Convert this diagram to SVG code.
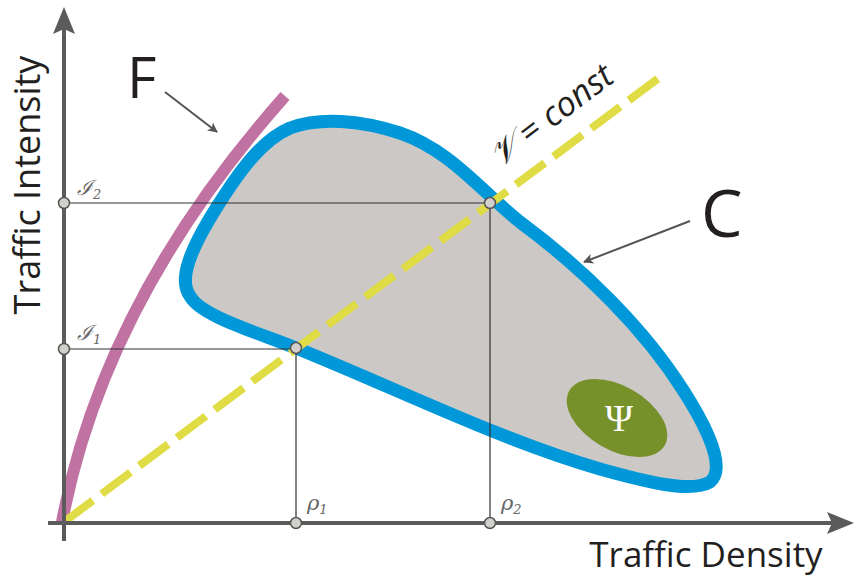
<svg xmlns="http://www.w3.org/2000/svg" width="855" height="581" viewBox="0 0 855 581">
<defs>
  <marker id="ah" viewBox="0 0 10 10" refX="9" refY="5" markerWidth="5" markerHeight="5" orient="auto" markerUnits="strokeWidth">
    <path d="M0,0 L10,5 L0,10 L2.5,5 Z" fill="#555"/>
  </marker>
  <style>
    .axis{stroke:#5b5b5b;stroke-width:4;fill:none}
    .guide{stroke:#333;stroke-width:1.2;fill:none}
    .pt{fill:#d2d0cc;stroke:#555;stroke-width:1.5}
    .lbl{font-family:"DejaVu Serif","Liberation Serif",serif;font-style:italic;fill:#666;font-size:21px}
    .big{font-family:"Open Sans","Liberation Sans",sans-serif;fill:#231f20}
    .ptr{stroke:#555;stroke-width:2;fill:none;marker-end:url(#ah)}
  </style>
</defs>
<rect width="855" height="581" fill="#fff"/>

<g id="region-C">
  <path d="M190,296 C178,280 190,250 215,210 C240,170 262,140 290,128 C320,117 360,120 400,133 C450,150 480,190 520,222 C585,270 645,330 683,390 C712,435 725,470 710,482 C690,494 640,480 600,469 C500,440 400,390 296,348 C250,330 200,315 190,296 Z" fill="#cbc8c5" stroke="#0098d8" stroke-width="13" stroke-linejoin="round"/>
</g>

<g id="region-Psi">
  <ellipse cx="617" cy="418" rx="55" ry="32" transform="rotate(30 617 418)" fill="#76902a"/>
  <text x="619" y="431" text-anchor="middle" font-family="'Liberation Serif',serif" font-size="38" fill="#fff">Ψ</text>
</g>

<g id="curve-F">
  <path d="M62,522 Q104,300 285,96" fill="none" stroke="#c073a3" stroke-width="12"/>
</g>

<g id="line-V">
  <path d="M64,522 L660,77" fill="none" stroke="#e0dc45" stroke-width="8" stroke-dasharray="36 11"/>
</g>

<g id="axes">
  <line class="axis" x1="64" y1="541" x2="64" y2="28"/>
  <path d="M64,7 L75,34 L64,29 L53,34 Z" fill="#5b5b5b"/>
  <line class="axis" x1="48" y1="523" x2="834" y2="523"/>
  <path d="M854,523 L827,534 L832,523 L827,512 Z" fill="#5b5b5b"/>
</g>

<g id="connectors">
  <path class="guide" d="M64,203 H490 V523"/>
  <path class="guide" d="M64,349 H296 V523"/>
  <line class="ptr" x1="165" y1="92" x2="217" y2="132"/>
  <line class="ptr" x1="690" y1="221" x2="584" y2="262"/>
</g>

<g id="points">
  <circle class="pt" cx="64" cy="203" r="5.5"/>
  <circle class="pt" cx="64" cy="349" r="5.5"/>
  <circle class="pt" cx="296" cy="523" r="5.5"/>
  <circle class="pt" cx="490" cy="523" r="5.5"/>
  <circle class="pt" cx="296" cy="348" r="5.5"/>
  <circle class="pt" cx="490" cy="203" r="5.5"/>
</g>

<g id="labels">
  <text class="lbl" x="77" y="195">ℐ<tspan font-size="13" dy="4">2</tspan></text>
  <text class="lbl" x="77" y="340">ℐ<tspan font-size="13" dy="4">1</tspan></text>
  <text class="lbl" x="307" y="510">ρ<tspan font-size="13" dy="4">1</tspan></text>
  <text class="lbl" x="501" y="510">ρ<tspan font-size="13" dy="4">2</tspan></text>
  <text class="big" x="127" y="98" font-size="57">F</text>
  <text class="big" x="701" y="237" font-size="66">C</text>
  <text class="big" x="0" y="0" font-size="36" transform="translate(40,185) rotate(-90)" text-anchor="middle">Traffic Intensity</text>
  <text class="big" x="706" y="567" font-size="35" text-anchor="middle">Traffic Density</text>
  <text x="0" y="0" font-size="34" fill="#231f20" font-family="'Open Sans','DejaVu Sans',sans-serif" transform="translate(500,168) rotate(-37)"><tspan font-family="'DejaVu Serif',serif" font-style="italic">𝒱</tspan> = <tspan font-style="italic">const</tspan></text>
</g>
</svg>
